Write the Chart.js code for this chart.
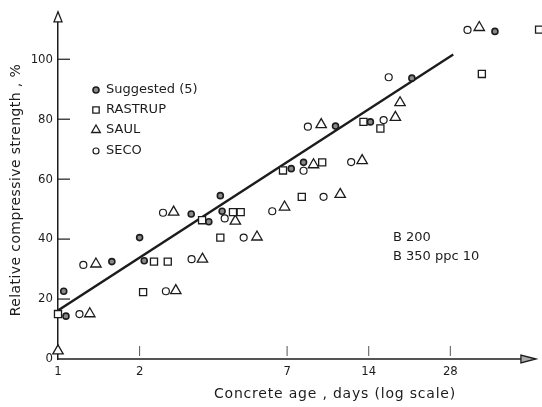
<!DOCTYPE html>
<html>
<head>
<meta charset="utf-8">
<script src="https://cdn.jsdelivr.net/npm/chart.js@4.4.0/dist/chart.umd.min.js"></script>
<style>
  html, body { margin: 0; padding: 0; background: #fff; }
  #wrap { width: 542px; height: 407px; }
</style>
</head>
<body>
<div id="wrap"><canvas id="strength-chart" width="542" height="407"></canvas></div>
<script>
// concrete age (days) and relative strength (%)
const suggestedAge = [1.07, 1.05, 1.58, 2.0, 2.08, 3.1, 3.6, 3.97, 4.03, 7.25, 8.05, 10.56, 14.2, 20.2, 40.9];
const suggestedStrength = [14.3, 22.6, 32.5, 40.5, 32.8, 48.4, 45.8, 54.5, 49.3, 63.5, 65.6, 77.7, 79.1, 93.7, 109.3];

const rastrupAge = [1.0, 2.06, 2.26, 2.54, 3.4, 3.97, 4.42, 4.72, 6.76, 7.93, 9.43, 13.39, 15.46, 36.6, 59.5];
const rastrupStrength = [15, 22.3, 32.5, 32.5, 46.3, 40.5, 49, 49, 62.9, 54.1, 65.6, 79.1, 76.9, 95.1, 109.9];

const saulAge = [1.0, 1.31, 1.38, 2.67, 2.72, 3.41, 4.51, 5.42, 6.85, 8.76, 9.35, 10.99, 13.24, 17.56, 18.27, 35.8];
const saulStrength = [2.7, 15.1, 31.7, 49, 22.8, 33.3, 46, 40.7, 50.7, 64.8, 78.2, 54.9, 66.2, 80.6, 85.5, 110.6];

const secoAge = [1.2, 1.24, 2.44, 2.5, 3.11, 4.12, 4.84, 6.17, 8.05, 8.35, 9.54, 12.06, 15.89, 16.59, 32.4];
const secoStrength = [15, 31.4, 48.8, 22.6, 33.3, 46.9, 40.5, 49.3, 62.8, 77.5, 54.1, 65.7, 79.7, 94.0, 109.8];

// fitted line end points
const fitAge = [1, 28.7];
const fitStrength = [16.2, 101.6];

const xTickValues = [1, 2, 7, 14, 28];
const yTickValues = [0, 20, 40, 60, 80, 100];
const xAxisEnd = 51; // where the drawn x axis line meets its arrow head (days)

const textFont = "'DejaVu Sans', sans-serif";
const tickFont = "'Liberation Sans Narrow', 'DejaVu Sans Condensed', sans-serif";
const ink = "#1c1c1c";

function toPoints(xs, ys) {
  return xs.map((x, i) => ({ x: x, y: ys[i] }));
}

const series = [
  { label: "Suggested (5)", data: toPoints(suggestedAge, suggestedStrength), pointStyle: "circle", pointRadius: 3, backgroundColor: "#8a8a8a", borderColor: ink, pointBorderWidth: 1.6 },
  { label: "RASTRUP", data: toPoints(rastrupAge, rastrupStrength), pointStyle: "rect", pointRadius: 5, backgroundColor: "#fff", borderColor: ink, pointBorderWidth: 1.3 },
  { label: "SAUL", data: toPoints(saulAge, saulStrength), pointStyle: "triangle", pointRadius: 6, backgroundColor: "#fff", borderColor: ink, pointBorderWidth: 1.3 },
  { label: "SECO", data: toPoints(secoAge, secoStrength), pointStyle: "circle", pointRadius: 3.5, backgroundColor: "#fff", borderColor: ink, pointBorderWidth: 1.2 },
];

const decorations = {
  id: "decorations",
  beforeDatasetsDraw(chart) {
    const { ctx, chartArea, scales } = chart;
    const base = scales.x.getPixelForValue(xAxisEnd);
    ctx.save();
    // x axis line with arrow head
    ctx.strokeStyle = ink;
    ctx.lineWidth = 1.5;
    ctx.beginPath();
    ctx.moveTo(chartArea.left, chartArea.bottom);
    ctx.lineTo(base, chartArea.bottom);
    ctx.stroke();
    ctx.lineWidth = 1.3;
    ctx.fillStyle = "#aaa";
    ctx.beginPath();
    ctx.moveTo(base + 15, chartArea.bottom);
    ctx.lineTo(base, chartArea.bottom - 4);
    ctx.lineTo(base, chartArea.bottom + 4);
    ctx.closePath();
    ctx.fill();
    ctx.stroke();
    ctx.restore();
  },
  afterDraw(chart) {
    const { ctx, chartArea, scales } = chart;
    const x = scales.x;
    const y = scales.y;
    ctx.save();
    ctx.strokeStyle = ink;
    ctx.fillStyle = ink;

    // inner ticks on the y axis
    ctx.lineWidth = 1.2;
    yTickValues.slice(1).forEach((v) => {
      const py = y.getPixelForValue(v);
      ctx.beginPath();
      ctx.moveTo(chartArea.left, py);
      ctx.lineTo(chartArea.left + 12, py);
      ctx.stroke();
    });
    // short ticks above the x axis
    ctx.lineWidth = 1;
    ctx.strokeStyle = "#555";
    xTickValues.slice(1).forEach((v) => {
      const px = x.getPixelForValue(v);
      ctx.beginPath();
      ctx.moveTo(px, chartArea.bottom - 13);
      ctx.lineTo(px, chartArea.bottom - 3);
      ctx.stroke();
    });

    // y axis arrow head
    ctx.strokeStyle = ink;
    ctx.lineWidth = 1.3;
    ctx.fillStyle = "#fff";
    const ax = chartArea.left;
    ctx.beginPath();
    ctx.moveTo(ax, chartArea.top - 1);
    ctx.lineTo(ax - 4, chartArea.top + 9);
    ctx.lineTo(ax + 4, chartArea.top + 9);
    ctx.closePath();
    ctx.fill();
    ctx.stroke();

    // legend
    ctx.font = "13px " + textFont;
    ctx.textBaseline = "middle";
    ctx.textAlign = "left";
    const legendY = [90, 110, 130, 151];
    series.forEach((s, i) => {
      const r = s.pointStyle === "triangle" ? 5 : s.pointStyle === "rect" ? 4.5 : 3;
      ctx.fillStyle = s.backgroundColor;
      ctx.strokeStyle = ink;
      ctx.lineWidth = s.pointBorderWidth;
      Chart.helpers.drawPoint(ctx, { pointStyle: s.pointStyle, radius: r, borderWidth: s.pointBorderWidth, rotation: 0 }, 96, legendY[i]);
      ctx.fillStyle = ink;
      ctx.fillText(s.label, 106, legendY[i]);
    });

    // mix notes
    ctx.fillText("B 200", 393, 238);
    ctx.fillText("B 350 ppc 10", 393, 257);

    // axis titles
    ctx.font = "14px " + textFont;
    ctx.textAlign = "center";
    ctx.letterSpacing = "0.8px";
    ctx.fillText("Concrete age , days (log scale)", 335, 394);
    ctx.letterSpacing = "0.4px";
    ctx.save();
    ctx.translate(16, 190);
    ctx.rotate(-Math.PI / 2);
    ctx.fillText("Relative compressive strength , %", 0, 0);
    ctx.restore();

    ctx.restore();
  },
};

const datasets = series.map((s) => ({
  label: s.label,
  data: s.data,
  pointStyle: s.pointStyle,
  pointRadius: s.pointRadius,
  pointBackgroundColor: s.backgroundColor,
  pointBorderColor: s.borderColor,
  pointBorderWidth: s.pointBorderWidth,
  showLine: false,
  clip: false,
}));

datasets.push({
  label: "fit",
  data: toPoints(fitAge, fitStrength),
  showLine: true,
  borderColor: ink,
  borderWidth: 2.3,
  pointRadius: 0,
});

new Chart(document.getElementById("strength-chart").getContext("2d"), {
  type: "scatter",
  data: { datasets: datasets },
  options: {
    responsive: false,
    animation: false,
    devicePixelRatio: 1,
    layout: { autoPadding: false, padding: { left: 0, top: 10, right: 0, bottom: 0 } },
    plugins: { legend: { display: false }, tooltip: { enabled: false } },
    scales: {
      x: {
        type: "logarithmic",
        min: 1,
        max: 61,
        afterFit: (s) => { s.height = 48; },
        afterBuildTicks: (s) => { s.ticks = xTickValues.map((v) => ({ value: v })); },
        grid: { display: false, drawTicks: false },
        border: { display: false },
        ticks: {
          autoSkip: false,
          maxRotation: 0,
          padding: 5,
          color: ink,
          font: { family: tickFont, size: 13 },
          callback: (v) => String(v),
        },
      },
      y: {
        type: "linear",
        min: 0,
        max: 115.5,
        afterFit: (s) => { s.width = 58; },
        afterBuildTicks: (s) => { s.ticks = yTickValues.map((v) => ({ value: v })); },
        grid: { display: false, drawTicks: false },
        border: { display: true, color: ink, width: 1.5 },
        ticks: {
          padding: 5,
          color: ink,
          font: { family: tickFont, size: 13 },
          callback: (v) => String(v),
        },
      },
    },
  },
  plugins: [decorations],
});
</script>
</body>
</html>
